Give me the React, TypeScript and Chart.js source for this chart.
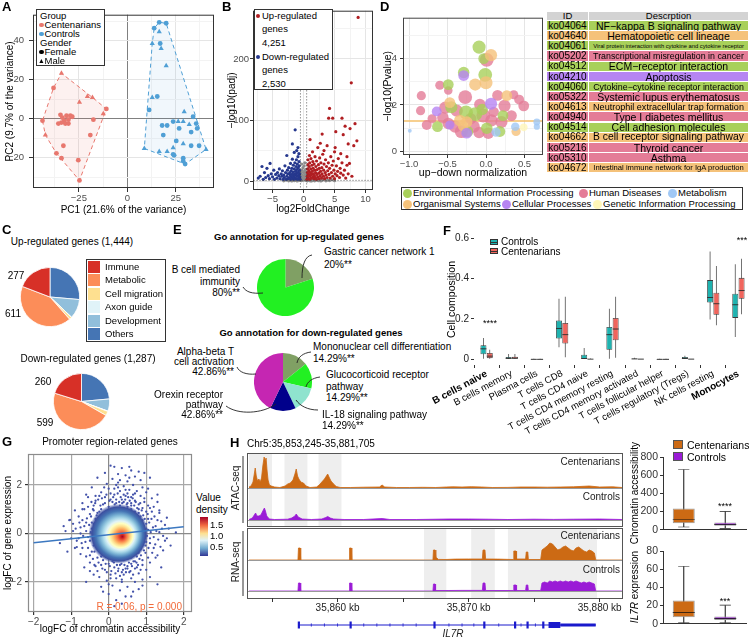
import React, { useEffect, useRef } from 'react';
import { Chart, registerables } from 'chart.js';

Chart.register(...registerables);

const FONT = '"Liberation Sans", Arial, Helvetica, sans-serif';
Chart.defaults.font.family = FONT;
Chart.defaults.font.size = 10;
Chart.defaults.color = '#4D4D4D';

// ================= DATA =================
// A: PCA
const A_CENT_FEMALE = [[-38.1,15.8],[-10.8,5.0],[-43.8,-1.0],[-34.5,2.0],[-33.5,0.5],[-32.5,-1.0],[-31.4,1.5],[-30.4,-0.5],[-29.4,1.5],[-28.4,1.0],[-34.0,-2.0],[-32.0,-2.5],[-35.6,-2.5],[-30.4,-2.5],[-17.5,-0.5],[-19.1,-8.4],[-33.0,-13.9],[-36.6,-17.8],[-34.0,-20.3],[-25.3,-21.3],[-24.7,-31.7]];
const A_CENT_MALE = [[-34.0,23.3],[-24.7,8.4],[-20.6,11.4],[-18.0,10.9],[-12.4,2.5],[-42.3,-8.4]];
const A_CTRL_FEMALE = [[16.5,49.5],[20.1,49.0],[13.9,46.5],[17.0,38.6],[15.5,11.4],[11.3,4.5],[34.0,1.0],[35.6,-2.5],[18.0,-3.5],[20.6,-3.5],[23.7,-1.5],[26.8,-5.0],[36.1,-5.0],[18.6,-8.4],[33.0,-6.9],[25.3,-11.4],[33.0,-13.9],[37.1,-13.9],[23.7,-18.3],[24.2,-18.8],[28.9,-20.3],[28.9,-21.8],[29.9,-23.3]];
const A_CTRL_MALE = [[16.5,44.6],[12.9,38.6],[17.5,36.1],[20.1,27.2],[12.9,10.9],[29.4,3.5],[26.3,-1.5],[28.9,-1.5],[32.0,-3.0],[8.8,-15.3],[16.5,-16.8],[20.6,-16.8],[23.7,-14.9],[28.9,-12.9],[40.7,-15.8]];

// B: volcano
const B_NS = [[-2.4,0.5],[-2.1,1.2],[-1.9,0.3],[-1.7,2.1],[-1.5,0.8],[-1.3,3.2],[-1.2,1.5],[-1.0,0.4],[-0.9,4.5],[-0.8,2.2],[-0.7,6.1],[-0.6,1.1],[-0.45,8.3],[-0.45,3.5],[-0.4,12.0],[-0.35,0.7],[-0.3,5.5],[-0.25,18.0],[-0.2,2.8],[-0.15,9.5],[-0.1,22.0],[-0.05,1.5],[0.0,14.0],[0.05,4.2],[0.1,25.0],[0.15,7.8],[0.2,16.5],[0.25,2.0],[0.3,11.0],[0.35,19.5],[0.4,6.5],[0.45,1.0],[0.5,3.8],[0.6,0.6],[0.7,2.5],[0.8,5.2],[0.9,1.3],[1.0,3.0],[1.1,0.4],[1.2,1.9],[1.35,4.0],[1.5,0.9],[1.65,2.7],[1.8,0.5],[2.0,1.6],[2.2,3.3],[2.4,0.7],[2.6,2.1],[2.8,0.4],[3.0,1.4],[3.3,2.8],[3.6,0.6],[3.9,1.8],[4.2,0.9],[4.6,2.3],[5.0,0.8],[-2.8,1.8],[-3.2,0.6],[-1.1,0.9],[0.65,1.0],[1.3,0.5],[-0.4,15.5],[0.4,13.0],[-0.3,28.0],[0.2,30.0]];
const B_DOWN = [[-0.55,3],[-0.6,7],[-0.62,12],[-0.65,18],[-0.7,25],[-0.72,32],[-0.75,5],[-0.8,10],[-0.82,15],[-0.85,22],[-0.9,40],[-0.9,55],[-0.95,3],[-1.0,8],[-1.0,28],[-1.05,13],[-1.1,19],[-1.15,35],[-1.2,4],[-1.2,24],[-1.25,10],[-1.3,16],[-1.35,84],[-1.4,6],[-1.4,30],[-1.45,12],[-1.5,47],[-1.5,20],[-1.55,3],[-1.6,9],[-1.65,26],[-1.7,15],[-1.75,5],[-1.8,61],[-1.8,36],[-1.85,11],[-1.9,21],[-1.95,7],[-2.0,17],[-2.05,3],[-2.1,29],[-2.15,10],[-2.2,14],[-2.3,6],[-2.4,22],[-2.5,4],[-2.55,12],[-2.6,18],[-2.7,42],[-2.7,8],[-2.8,3],[-2.9,14],[-3.0,25],[-3.1,6],[-3.2,10],[-3.3,3],[-3.4,17],[-3.5,8],[-3.6,12],[-3.8,4],[-3.9,20],[-4.0,9],[-4.2,14],[-4.3,5],[-4.5,11],[-4.7,3],[-4.8,18],[-5.0,7],[-5.2,12],[-5.4,29],[-5.5,4],[-5.7,9],[-5.9,21],[-6.1,6],[-6.3,14],[-6.5,3],[-6.7,24],[-7.0,8],[-7.3,5],[-1.1,50],[-0.75,45]];
const B_UP = [[0.55,3],[0.6,8],[0.62,14],[0.65,20],[0.7,27],[0.72,35],[0.75,5],[0.8,11],[0.85,17],[0.9,24],[0.95,42],[1.0,3],[1.0,30],[1.05,68],[1.05,9],[1.1,14],[1.15,20],[1.2,37],[1.25,5],[1.3,11],[1.35,26],[1.4,16],[1.45,48],[1.5,7],[1.5,32],[1.55,21],[1.6,12],[1.65,4],[1.7,28],[1.75,9],[1.8,18],[1.85,40],[1.9,6],[1.95,14],[2.0,24],[2.05,3],[2.1,33],[2.15,11],[2.2,19],[2.3,55],[2.3,7],[2.4,27],[2.45,13],[2.5,4],[2.55,21],[2.6,38],[2.7,9],[2.75,16],[2.8,30],[2.9,5],[2.95,22],[3.0,77],[3.0,12],[3.1,44],[3.2,8],[3.25,18],[3.3,28],[3.4,4],[3.5,14],[3.55,35],[3.6,10],[3.7,24],[3.8,58],[3.8,6],[3.9,17],[4.0,30],[4.05,103],[4.1,11],[4.2,119],[4.2,21],[4.3,5],[4.4,40],[4.5,14],[4.6,26],[4.7,103],[4.7,8],[4.8,33],[4.9,18],[5.0,4],[5.1,55],[5.1,12],[5.2,81],[5.3,25],[5.4,9],[5.5,16],[5.6,37],[5.8,6],[5.9,21],[6.0,13],[6.2,103],[6.2,30],[6.4,76],[6.4,10],[6.6,18],[6.7,90],[6.8,5],[7.0,26],[7.2,61],[7.2,12],[7.4,29],[7.5,86],[7.7,161],[7.8,8],[8.1,58],[8.3,94],[8.6,66],[8.8,268],[6.0,45],[5.0,48],[3.3,50],[2.7,62],[7.0,40]];
const B_FC_CUT = 0.5;
const B_P_CUT = 1.3;
const B_UP_COUNT = '4,251';
const B_DOWN_COUNT = '2,530';

// C: pies
const C_GROUPS = ['Others', 'Development', 'Axon guide', 'Cell migration', 'Metabolic', 'Immune'];
const C_UP_VALUES = [381, 153, 2, 20, 611, 277];
const C_DOWN_VALUES = [303, 90, 3, 32, 599, 260];
const C_LEGEND = ['Immune', 'Metabolic', 'Cell migration', 'Axon guide', 'Development', 'Others'];

// D: KEGG bubbles [x, y, r]
const D_CLASSES = ['Environmental Information Processing', 'Human Diseases', 'Metabolism', 'Organismal Systems', 'Cellular Processes', 'Genetic Information Processing'];
const D_ENV = [[-0.09,4.5,5.7],[-0.03,4.0,4.7],[-0.29,3.4,5],[-0.01,3.3,6],[-0.49,2.88,4.7],[-0.26,1.68,6],[-0.14,1.6,6],[0.22,1.54,4.7],[-0.63,1.06,4.7],[0.01,0.99,5],[-0.24,0.85,5],[0.18,0.85,4.7],[-0.45,1.9,5.3],[-0.05,1.8,5]];
const D_HUM = [[0.009,3.95,6],[-0.6,2.85,4],[-0.49,2.62,3.7],[-0.84,2.4,4],[-0.27,2.34,6],[0.15,2.41,4.7],[0.36,2.44,4],[0.43,2.23,4.3],[0.49,1.96,4.7],[0.24,1.96,5.3],[-0.08,2.02,5],[-0.85,1.75,4],[-0.53,1.88,5.3],[-0.38,1.75,5.3],[-0.035,1.54,6],[0.33,1.54,4.7],[0.07,1.33,5.3],[0.2,1.26,5.3],[-0.77,1.13,4.3],[-0.49,1.2,5],[-0.4,1.06,5.3],[-0.16,1.06,5.3],[-0.32,0.85,5.7],[-0.09,0.81,5],[0.03,0.78,5],[-0.56,1.45,5],[-0.2,1.4,5],[0.1,1.7,4.5],[-0.7,1.4,4]];
const D_MET = [[0.13,0.82,4],[0.38,1.06,3.7],[0.66,1.26,3],[0.66,1.06,2.7],[-0.99,0.88,1.7]];
const D_ORG = [[0.065,4.15,5.3],[-0.14,2.88,5.3],[0,2.96,5.7],[0.27,2.4,4.7],[-0.47,2.1,4.7],[-0.34,1.33,5],[-0.25,1.26,5],[0.39,0.85,4],[-0.3,1.1,4.5]];
const D_CELL = [[-0.29,3.27,4.7],[0.065,2.05,5.3],[-0.64,1.72,4.3],[-0.47,1.13,4],[-0.25,0.78,4.7]];
const D_GEN = [[0.49,1.03,3.3]];
const D_P_CUT = 1.3;
const KEGG_IDS = ['ko04064','ko04640','ko04061','ko05202','ko04512','ko04210','ko04060','ko05322','ko04613','ko04940','ko04514','ko04662','ko05216','ko05310','ko04672'];
const KEGG_DESC = ['NF\u2212kappa B signaling pathway','Hematopoietic cell lineage','Viral protein interaction with cytokine and cytokine receptor','Transcriptional misregulation in cancer','ECM\u2212receptor interaction','Apoptosis','Cytokine\u2212cytokine receptor interaction','Systemic lupus erythematosus','Neutrophil extracellular trap formation','Type I diabetes mellitus','Cell adhesion molecules','B cell receptor signaling pathway','Thyroid cancer','Asthma','Intestinal immune network for IgA production'];
const KEGG_CLASS = [0,3,0,1,0,4,0,1,3,1,0,3,1,1,3];

// E: GO pies
const E_UP_LABELS = ['Gastric cancer network 1', 'B cell mediated immunity'];
const E_UP_VALUES = [20, 80];
const E_DOWN_LABELS = ['Mononuclear cell differentiation', 'Glucocorticoid receptor pathway', 'IL-18 signaling pathway', 'Orexin receptor pathway', 'Alpha-beta T cell activation'];
const E_DOWN_VALUES = [14.29, 14.29, 14.29, 14.29, 42.86];

// F: cell composition boxplots [min, q1, median, q3, max]
const F_CATEGORIES = ['B cells naive','B cells memory','Plasma cells','T cells CD8','T cells CD4 naive','T cells CD4 memory resting','T cells CD4 memory activated','T cells follicular helper','T cells regulatory (Tregs)','NK cells resting','Monocytes'];
const F_CONTROLS = [[0,0.025,0.052,0.07,0.106],[0,0,0.005,0.012,0.027],[0,0,0,0.001,0.002],[0.06,0.103,0.153,0.192,0.30],[0,0,0.004,0.023,0.056],[0,0.047,0.122,0.16,0.25],[0,0,0.002,0.005,0.008],[0,0,0,0.001,0.001],[0,0,0.004,0.012,0.018],[0.197,0.281,0.306,0.392,0.533],[0.11,0.205,0.27,0.325,0.47]];
const F_CENTENARIANS = [[0,0.006,0.016,0.031,0.047],[0,0,0.006,0.013,0.027],[0,0,0,0.001,0.002],[0.01,0.078,0.122,0.18,0.31],[0,0,0.001,0.003,0.005],[0.008,0.094,0.15,0.205,0.31],[0,0,0.001,0.002,0.003],[0,0,0,0.001,0.001],[0,0,0.001,0.002,0.003],[0.169,0.22,0.275,0.33,0.462],[0.223,0.30,0.34,0.403,0.497]];

// G: promoter scatter
const G_DOTS_OUTER = [[0.05,2.8],[0.15,2.75],[0.35,2.7],[0.55,2.75],[0.6,2.6],[0.8,2.55],[-0.1,2.5],[0.25,2.45],[0.45,2.4],[0.7,2.35],[0.95,2.5],[-0.3,2.3],[0.1,2.25],[0.3,2.2],[0.5,2.15],[0.85,2.2],[1.1,2.3],[-0.05,2.05],[0.2,2.0],[0.4,1.95],[0.65,2.0],[0.9,1.9],[-0.45,1.9],[0.0,1.85],[0.55,1.8],[0.75,1.75],[1.0,1.7],[-0.2,1.7],[0.3,1.75],[0.15,1.6],[0.45,1.55],[0.85,1.55],[-0.55,1.5],[-0.1,1.5],[0.6,1.5],[1.15,1.45],[0.05,1.4],[0.35,1.4],[0.7,1.35],[-0.35,1.35],[1.3,1.3],[0.95,1.3],[-0.7,1.25],[0.2,1.25],[0.5,1.25],[-0.15,1.2],[0.8,1.2],[1.05,1.15],[0.25,1.9],[0.5,1.65],[-0.25,1.55],[0.1,1.3],[0.65,1.6],[0.4,1.3],[-0.4,1.15],[0.9,1.05],[0.0,1.1],[0.6,1.15],
[-1.05,0.55],[-0.95,0.1],[-0.85,-0.3],[-0.8,0.7],[-0.75,0.25],[-0.7,-0.6],[-0.65,1.0],[-0.6,0.45],[-0.55,-0.15],[-0.5,0.8],[-0.5,-0.9],[-0.45,0.2],[-0.4,-0.5],[-0.4,0.95],[-0.35,0.6],[-0.3,-1.0],[-0.3,0.85],[-0.25,-0.7],[-0.2,1.0],[-0.15,-1.1],[1.05,0.6],[1.1,-0.2],[1.15,0.9],[1.2,-0.6],[1.25,0.3],[1.3,-0.9],[1.35,0.05],[1.4,0.5],[1.5,-0.3],[1.6,0.2],[1.05,-1.0],[1.1,1.05],[0.98,-0.8],[1.0,0.9],[-1.3,-0.4],[-1.2,0.3],[1.79,0.04],[-0.85,-0.56],[-1.03,0.56],[1.55,0.65],[-1.1,-0.75],[1.45,-0.7],[-0.9,0.95],[1.65,-0.5],
[0.0,-1.25],[0.3,-1.3],[0.6,-1.25],[0.9,-1.3],[-0.35,-1.35],[0.15,-1.4],[0.45,-1.45],[0.75,-1.4],[-0.1,-1.5],[0.25,-1.55],[0.55,-1.6],[1.0,-1.5],[-0.5,-1.55],[0.05,-1.7],[0.4,-1.7],[0.8,-1.65],[-0.25,-1.8],[0.2,-1.85],[0.6,-1.85],[1.1,-1.8],[-0.05,-1.95],[0.35,-2.0],[0.7,-2.0],[0.1,-2.15],[0.5,-2.2],[0.9,-2.15],[-0.2,-2.2],[0.3,-2.35],[0.65,-2.4],[0.0,-2.5],[0.45,-2.6],[0.2,-2.75],[0.15,-3.0],[0.35,-2.9],[1.3,-2.1],[-0.6,-2.0],[0.1,-1.15],[0.7,-1.15],[-0.2,-1.3],[0.5,-1.35],[0.35,-1.6],[0.9,-1.9],[-0.4,-1.7],[0.6,-2.6],
[-0.35,0.3],[-0.3,-0.3],[-0.25,0.55],[-0.2,-0.55],[-0.1,0.8],[-0.05,-0.85],[0.0,0.95],[0.1,-1.0],[0.2,1.05],[0.4,1.05],[0.6,1.0],[0.8,0.85],[0.9,0.55],[0.95,0.2],[0.95,-0.15],[0.9,-0.5],[0.8,-0.8],[0.6,-1.0],[0.4,-1.1],[-0.3,0.05],[-0.2,0.2],[0.85,-0.3],[0.05,-0.7],[0.7,0.9],[-0.15,0.65],[0.25,-1.05],[0.5,-1.05],[0.75,-0.95],[0.3,1.15],[0.5,1.1],[-0.4,-0.2],[-0.45,0.45],[1.0,0.4],[1.0,-0.35],[-0.25,0.9],[-0.15,-0.8],[0.85,0.7],[0.85,-0.65],[-0.38,-0.75],[1.05,0.15]];
const G_DOTS_INNER = [[-0.6,0.1],[-0.62,-0.35],[-0.58,0.62],[-0.55,-0.6],[-0.52,0.35],[-0.5,-0.3],[-0.48,0.05],[-0.47,0.7],[-0.45,-0.75],[-0.42,1.0],[-0.42,-1.05],[-0.4,0.4],[-0.38,-1.3],[-0.36,1.25],[-0.33,-0.1],[-0.32,0.75],[-0.3,-0.55],[-0.28,1.4],[-0.27,-1.2],[-0.25,0.25],[-0.24,-0.4],[-0.22,1.15],[-0.2,-0.95],[-0.18,1.45],[-0.17,-1.45],[-0.15,0.4],[-0.12,-0.25],[-0.1,1.25],[-0.08,-1.25],[-0.06,1.6],[-0.05,-1.6],[-0.03,0.55],[0.0,-0.45],[0.02,1.35],[0.03,-1.35],[0.05,1.65],[0.07,-1.55],[0.08,0.7],[0.1,-0.8],[0.12,1.5],[0.14,-1.2],[0.16,1.2],[0.18,-1.65],[0.2,1.4],[0.22,-1.3],[0.24,1.65],[0.26,-1.45],[0.28,1.3],[0.3,-1.75],[0.32,1.5],[0.34,-1.25],[0.36,1.25],[0.38,-1.5],[0.4,1.6],[0.42,-1.3],[0.44,1.4],[0.46,-1.6],[0.48,1.2],[0.5,-1.45],[0.52,1.5],[0.54,-1.2],[0.56,1.35],[0.58,-1.55],[0.6,1.25],[0.62,-1.35],[0.64,1.45],[0.66,-1.15],[0.68,1.15],[0.7,-1.45],[0.72,1.3],[0.74,-1.2],[0.76,1.05],[0.78,-1.3],[0.8,1.0],[0.82,-1.05],[0.84,1.25],[0.86,-0.9],[0.88,0.95],[0.9,-1.1],[0.92,0.75],[0.94,-0.7],[0.96,0.6],[0.98,-0.5],[1.0,0.2],[1.02,-0.1],[1.04,0.8],[1.06,-0.6],[1.08,0.45],[1.1,-0.4],[1.12,0.05],[1.14,0.6],[1.16,-0.8],[1.18,0.25],[1.2,-0.15],[1.22,0.7],[1.24,-0.45],[1.27,0.1],[1.3,0.55],[1.32,-0.25],[1.35,0.85],[1.38,-0.55],[1.42,0.2],[1.45,-0.1],[-0.65,0.3],[-0.68,-0.1],[-0.7,0.55],[-0.72,-0.4],[-0.75,0.0],[-0.78,0.45],[-0.8,-0.2],[-0.88,0.2],[-0.9,-0.6],[-0.95,0.4],[-0.46,1.3],[-0.5,-1.2],[-0.55,1.1],[-0.6,-0.95],[-0.35,1.55],[-0.3,-1.55],[0.15,1.85],[0.45,1.8],[0.7,1.65],[0.95,1.45],[-0.12,1.9],[0.35,-1.9],[0.65,-1.7],[0.05,-1.85],[0.85,-1.5],[1.1,-1.2],[1.2,1.1],[1.25,-1.0],[-0.7,1.0],[-0.75,-0.85],[1.35,0.95],[1.5,0.35],[1.55,-0.2],[-1.0,-0.2],[-1.15,0.1],[0.25,2.1],[0.55,2.3],[0.0,-2.1],[0.8,-2.3],[-0.15,-2.4],[1.05,1.85],[-0.6,1.6],[1.3,1.6],[-0.65,-1.4],[1.4,-1.4]];
const G_CORE = [[0.26, -0.01, 30]];
const G_FIT = [[-2, -0.38], [2, 0.28]];
const G_STAT = 'R = 0.06, p = 0.000';

// H: tracks
const GENOME_START = 35853.245;
const GENOME_END = 35881.705;
const GENOME_TICKS = [35855, 35860, 35865, 35870, 35875, 35880];
const GENOME_LABELED = [35860, 35870, 35880];
const ATAC_REGIONS = [[35853.245, 35855.0], [35855.95, 35857.7], [35858.55, 35860.3]];
const RNA_REGIONS = [[35866.6, 35868.3], [35870.2, 35872.0], [35873.0, 35879.8]];
const ATAC_CENT = [[35853.25,1],[35853.4,2],[35853.55,6],[35853.65,14],[35853.72,20],[35853.8,12],[35853.9,7],[35854.0,9],[35854.1,6],[35854.2,10],[35854.3,22],[35854.4,31],[35854.48,27],[35854.55,30],[35854.62,18],[35854.7,8],[35854.8,3],[35854.95,2],[35855.2,1],[35855.6,0.5],[35856.0,2],[35856.2,4],[35856.4,5],[35856.6,8],[35856.75,14],[35856.85,19],[35856.95,12],[35857.05,9],[35857.2,6],[35857.4,5],[35857.6,2],[35857.9,0.5],[35858.4,1],[35858.6,3],[35858.8,6],[35859.0,9],[35859.15,12],[35859.25,14],[35859.35,11],[35859.5,7],[35859.7,4],[35859.9,1.5],[35860.2,0.5],[35861,0.5],[35862,0.8],[35863.2,1],[35863.4,3],[35863.6,1],[35864.5,0.5],[35865.5,0.5],[35866.5,0.7],[35867.5,0.5],[35868.3,1],[35868.8,1.2],[35869.5,1],[35870.2,1.3],[35871,1],[35871.8,0.5],[35873,0.6],[35874,1],[35875,1],[35876,0.8],[35877,1],[35878,1.2],[35879.2,2],[35880,1],[35881,1.2],[35881.7,0.5]];
const ATAC_CTRL = [[35853.25,0.5],[35853.5,2],[35853.65,5],[35853.75,7],[35853.85,4],[35854.0,4],[35854.15,5],[35854.3,9],[35854.42,12],[35854.5,9],[35854.6,4],[35854.8,1],[35855.2,0.5],[35856.2,0.8],[35856.5,2],[35856.75,4],[35856.85,6],[35857.0,3],[35857.3,1],[35858.0,0.5],[35858.8,1],[35859.1,2.5],[35859.25,3.5],[35859.45,2],[35859.7,1],[35860.5,0.5],[35862,0.5],[35863.4,1.5],[35864,0.5],[35866,0.5],[35868.5,1],[35870,1],[35871.5,0.8],[35873,0.5],[35875,0.8],[35876.5,0.6],[35878,0.8],[35880,1],[35881.7,0.5]];
const RNA_CENT = [[35853.25,0],[35856.98,0],[35857.02,12],[35857.15,12],[35857.19,0],[35860.88,0],[35860.92,12],[35861.05,12],[35861.09,0],[35867.28,0],[35867.32,10],[35867.44,10],[35867.5,3],[35867.7,0.6],[35868.2,0.5],[35869,0.9],[35870,1],[35871.05,1],[35871.1,10],[35871.25,10],[35871.3,1],[35872.2,0.9],[35873.4,0.5],[35873.45,9],[35873.62,9],[35873.66,1],[35874.35,1],[35874.4,8],[35874.52,8],[35874.56,0.5],[35875.5,0.5],[35875.6,10],[35875.8,12],[35876.0,14],[35876.2,17],[35876.4,16],[35876.6,13],[35876.8,10],[35877.0,11],[35877.2,13],[35877.4,14],[35877.6,12],[35877.8,10],[35878.0,9],[35878.2,12],[35878.4,13],[35878.6,11],[35878.8,9],[35879.0,8],[35879.2,10],[35879.4,9],[35879.6,7],[35879.7,0],[35881.7,0]];
const RNA_CTRL = [[35853.25,0],[35856.98,0],[35857.02,8],[35857.15,8],[35857.19,0],[35860.88,0],[35860.92,8],[35861.05,8],[35861.09,0],[35867.28,0],[35867.32,7],[35867.44,7],[35867.48,0.5],[35868.5,0.5],[35869.5,0.6],[35871.05,0.6],[35871.1,8],[35871.25,8],[35871.3,0.5],[35873.4,0.5],[35873.45,6],[35873.62,6],[35873.66,0.5],[35874.35,0.5],[35874.4,6],[35874.52,6],[35874.56,0.5],[35875.5,0.5],[35875.6,8],[35875.8,9],[35876.0,8],[35876.2,10],[35876.4,9],[35876.6,10],[35876.8,9],[35877.0,10],[35877.2,9],[35877.4,10],[35877.6,9],[35877.8,10],[35878.0,9],[35878.2,10],[35878.4,9],[35878.6,8],[35878.8,9],[35879.0,8],[35879.2,9],[35879.4,8],[35879.6,7],[35879.7,0],[35881.7,0]];
const IL7R_SPAN = [35857.0, 35879.7];
const IL7R_EXONS = [35857.05, 35861.0, 35867.4, 35871.2, 35873.55, 35874.5, 35875.7];
const IL7R_UTR = [35876.1, 35877.0];
const IL7R_TAIL = [35877.0, 35879.7];
const IL7R_STRAND = [35858, 35859, 35860, 35862, 35863, 35864, 35865, 35866, 35868.5, 35869.5, 35870.4, 35872.3, 35874.0, 35875.1];
const H_GROUPS = ['Centenarians', 'Controls'];
const H_ATAC_CENT = [30, 70, 110, 235, 665];
const H_ATAC_CTRL = [15, 45, 60, 80, 200];
const H_EXPR_CENT = [1, 7, 12.5, 25.5, 63.5];
const H_EXPR_CTRL = [1, 4, 6, 8, 20.5];

// ================= STYLE =================
const A_RED = '#E8776E', A_BLUE = '#4F9FD5';
const V_RED = '#B01E22', V_BLUE = '#26388E', V_GRAY = '#8C8C8C';
const C_COLORS: any = { Immune: '#D73027', Metabolic: '#FC8D59', 'Cell migration': '#FEE090', 'Axon guide': '#E0F3F8', Development: '#91BFDB', Others: '#4575B4' };
const D_COLORS = ['#A8D05A', '#E47C97', '#A0C8F5', '#F5C27A', '#B685F2', '#FFF6B8'];
const D_SIZE_SCALE = 1.15;
const E_UP_COLORS = ['#80A064', '#22F022'];
const E_DOWN_COLORS = ['#80A064', '#22F022', '#8FE3CE', '#00008B', '#C526B2'];
const F_TEAL = '#1FB3B0', F_SALMON = '#F0655D';
const H_ORANGE = '#CC6A14', H_PURPLE = '#9A1BD6';
const DENSITY_STOPS: any[] = [[0, '#A50026'], [0.07, '#D73027'], [0.15, '#F46D43'], [0.24, '#FDAE61'], [0.32, '#FEE090'], [0.4, '#FFFFBF'], [0.48, '#E0F3F8'], [0.57, '#ABD9E9'], [0.67, '#74ADD1'], [0.78, '#4575B4'], [0.9, '#3B4FA0'], [1, 'rgba(60,80,165,0.0)']];

const BASE: any = { responsive: false, animation: false, devicePixelRatio: 1, events: [] };
const NOPLUG = { legend: { display: false }, tooltip: { enabled: false } };
const lay = (top = 0, right = 0, bottom = 0, left = 0) => ({ autoPadding: false, padding: { top, right, bottom, left } });

const framePlugin: any = {
  id: 'frame',
  afterDatasetsDraw(chart: any, _a: any, opts: any) {
    if (!opts || !opts.color) return;
    const { ctx, chartArea: a } = chart;
    ctx.save();
    ctx.strokeStyle = opts.color;
    ctx.lineWidth = opts.width || 1;
    ctx.strokeRect(a.left + 0.5, a.top + 0.5, a.right - a.left - 1, a.bottom - a.top - 1);
    ctx.restore();
  },
};
const shadePlugin: any = {
  id: 'shade',
  beforeDatasetsDraw(chart: any, _a: any, opts: any) {
    if (!opts || !opts.regions) return;
    const { ctx, chartArea: a } = chart;
    const x = chart.scales.x;
    ctx.save();
    ctx.fillStyle = opts.color;
    for (const [s, e] of opts.regions) {
      const x0 = x.getPixelForValue(s), x1 = x.getPixelForValue(e);
      ctx.fillRect(x0, a.top, x1 - x0, a.bottom - a.top);
    }
    ctx.restore();
  },
};
const polyFillPlugin: any = {
  id: 'polyFill',
  beforeDatasetsDraw(chart: any) {
    chart.data.datasets.forEach((ds: any, i: number) => {
      if (!ds.polyFill) return;
      const meta = chart.getDatasetMeta(i);
      const ctx = chart.ctx;
      ctx.save();
      ctx.beginPath();
      meta.data.forEach((p: any, k: number) => (k ? ctx.lineTo(p.x, p.y) : ctx.moveTo(p.x, p.y)));
      ctx.closePath();
      ctx.fillStyle = ds.polyFill;
      ctx.fill();
      ctx.restore();
    });
  },
};
Chart.register(framePlugin, shadePlugin, polyFillPlugin);

const minus = (s: string) => s.replace(/^-/, '\u2212');
const xy = (a: number[][]) => a.map(([x, y]) => ({ x, y }));
const xyr = (a: number[][], k = 1) => a.map(([x, y, r]) => ({ x, y, r: r * k }));

function hull(points: number[][]) {
  const p = [...points].sort((a, b) => a[0] - b[0] || a[1] - b[1]);
  const cross = (o: number[], a: number[], b: number[]) => (a[0] - o[0]) * (b[1] - o[1]) - (a[1] - o[1]) * (b[0] - o[0]);
  const lower: number[][] = [];
  for (const q of p) { while (lower.length >= 2 && cross(lower[lower.length - 2], lower[lower.length - 1], q) <= 0) lower.pop(); lower.push(q); }
  const upper: number[][] = [];
  for (const q of [...p].reverse()) { while (upper.length >= 2 && cross(upper[upper.length - 2], upper[upper.length - 1], q) <= 0) upper.pop(); upper.push(q); }
  const h = lower.slice(0, -1).concat(upper.slice(0, -1));
  h.push(h[0]);
  return xy(h);
}

function linAxis(o: any) {
  const major: number[] = o.major, minor: number[] = o.minor || [];
  const all = [...minor, ...major];
  const isMajor = (v: number) => major.some((m) => Math.abs(m - v) < 1e-9);
  return {
    type: 'linear', min: o.min, max: o.max, display: o.display !== false,
    afterBuildTicks: (s: any) => { s.ticks = all.map((v) => ({ value: v })); },
    afterFit: (s: any) => { if (o.isY) s.width = o.fit; else s.height = o.fit; },
    ticks: {
      autoSkip: false, maxRotation: 0, minRotation: 0, padding: o.pad ?? 2,
      color: o.tickColor || '#4D4D4D', font: { size: o.tickSize || 9.5 },
      callback: (v: number) => (isMajor(v) ? minus(o.fmt ? o.fmt(v) : String(v)) : ''),
    },
    grid: {
      drawOnChartArea: o.grid !== false, drawTicks: true, tickLength: o.tickLen ?? 3, lineWidth: o.gridWidth || 1,
      color: (c: any) => {
        const v = c.tick ? c.tick.value : NaN;
        if (o.zero !== undefined && Math.abs(v - o.zero) < 1e-9) return o.zeroColor;
        return isMajor(v) ? (o.gridMajor || '#E5E5E5') : (o.gridMinor || '#F3F3F3');
      },
      tickColor: (c: any) => (c.tick && isMajor(c.tick.value) ? o.tickMarkColor || '#333' : 'rgba(0,0,0,0)'),
    },
    border: { display: !!o.border, color: '#333', width: 1 },
    title: o.title
      ? { display: true, text: o.title, color: '#000', font: { size: o.titleSize || 10 }, padding: { top: o.titlePad || 0, bottom: o.titlePad || 0 } }
      : { display: false },
  };
}

// ================= CHART CONFIGS =================
function makeA() {
  const pt = (data: number[][], color: string, style: string, r: number) => ({ type: 'scatter', data: xy(data), pointStyle: style, pointRadius: r, backgroundColor: color, borderWidth: 0 });
  const hl = (data: number[][], color: string, fillc: string) => ({ type: 'line', data: hull(data), borderColor: color, borderWidth: 1, borderDash: [4, 3], pointRadius: 0, tension: 0, fill: false, polyFill: fillc });
  return {
    type: 'scatter',
    data: { datasets: [
      pt(A_CENT_FEMALE, A_RED, 'circle', 2.4), pt(A_CENT_MALE, A_RED, 'triangle', 3),
      pt(A_CTRL_FEMALE, A_BLUE, 'circle', 2.4), pt(A_CTRL_MALE, A_BLUE, 'triangle', 3),
      hl([...A_CENT_FEMALE, ...A_CENT_MALE], A_RED, 'rgba(232,119,110,0.10)'),
      hl([...A_CTRL_FEMALE, ...A_CTRL_MALE], A_BLUE, 'rgba(79,159,213,0.08)'),
    ] },
    options: {
      ...BASE, layout: lay(4, 2),
      scales: {
        x: linAxis({ min: -48.7, max: 44.8, major: [-25, 0, 25], minor: [-37.5, -12.5, 12.5, 37.5], fit: 28, title: 'PC1 (21.6% of the variance)', titlePad: 0, zero: 0, zeroColor: '#808080', pad: 1, tickLen: 4 }),
        y: linAxis({ isY: true, min: -35.6, max: 53.4, major: [-20, 0, 20, 40], minor: [-30, -10, 10, 30, 50], fit: 33, title: 'PC2 (9.7% of the variance)', titlePad: 4, zero: 0, zeroColor: '#808080', pad: 5, tickLen: 4 }),
      },
      plugins: { ...NOPLUG, frame: { color: '#333' } },
    },
  };
}

function makeB() {
  const pt = (data: number[][], color: string) => ({ data: xy(data), pointRadius: 1.6, backgroundColor: color, borderWidth: 0 });
  const ln = (data: number[][]) => ({ type: 'line', data: xy(data), borderColor: '#333', borderWidth: 0.8, borderDash: [1, 2], pointRadius: 0, fill: false });
  return {
    type: 'scatter',
    data: { datasets: [
      ln([[-B_FC_CUT, -20], [-B_FC_CUT, 300]]), ln([[B_FC_CUT, -20], [B_FC_CUT, 300]]), ln([[-10, B_P_CUT], [12, B_P_CUT]]),
      pt(B_UP, V_RED), pt(B_DOWN, V_BLUE), pt(B_NS, V_GRAY),
    ] },
    options: {
      ...BASE, layout: lay(4, 2),
      scales: {
        x: linAxis({ min: -8.15, max: 11.2, major: [-5, 0, 5, 10], minor: [-7.5, -2.5, 2.5, 7.5], fit: 27, title: 'log2FoldChange', titlePad: 2, pad: 1 }),
        y: linAxis({ isY: true, min: -14.5, max: 279, major: [0, 100, 200], minor: [50, 150, 250], fit: 27, title: '\u2212log10(padj)', titlePad: 0, pad: 1 }),
      },
      plugins: { ...NOPLUG, frame: { color: '#333' } },
    },
  };
}

function makePie(values: number[], colors: string[], bw: number) {
  return () => ({
    type: 'pie',
    data: { labels: values.map((_, i) => String(i)), datasets: [{ data: values, backgroundColor: colors, borderColor: '#fff', borderWidth: bw }] },
    options: { ...BASE, layout: lay(), plugins: NOPLUG },
  });
}

function makeD() {
  const sets = [D_ENV, D_HUM, D_MET, D_ORG, D_CELL, D_GEN];
  const alpha = (hex: string, a: number) => {
    const n = parseInt(hex.slice(1), 16);
    return `rgba(${(n >> 16) & 255},${(n >> 8) & 255},${n & 255},${a})`;
  };
  const order = [5, 2, 4, 3, 0, 1];
  return {
    type: 'bubble',
    data: { datasets: [
      ...order.map((k) => ({ data: xyr(sets[k], D_SIZE_SCALE), backgroundColor: alpha(D_COLORS[k], 0.8), borderWidth: 0 })),
      { type: 'line', data: xy([[-1.2, D_P_CUT], [0.8, D_P_CUT]]), borderColor: '#F5C06B', borderWidth: 1.5, pointRadius: 0, fill: false },
    ] },
    options: {
      ...BASE, layout: lay(2, 2),
      scales: {
        x: linAxis({ min: -1.078, max: 0.74, major: [-1, -0.5, 0, 0.5], minor: [-0.75, -0.25, 0.25], fmt: (v: number) => v.toFixed(1), fit: 26, title: 'up\u2212down normalization', titlePad: 1.5, pad: 1, titleSize: 10.5 }),
        y: linAxis({ isY: true, min: -0.165, max: 5.77, major: [0, 2, 4], minor: [1, 3, 5], fit: 25, title: '\u2212log10(Pvalue)', titlePad: 3.5, pad: 3, titleSize: 10.5 }),
      },
      plugins: { ...NOPLUG, frame: { color: '#444' } },
    },
  };
}

function boxSets(stats: number[][], color: string, stack: string, d: number) {
  const common = { stack, categoryPercentage: 0.5, borderSkipped: false };
  return [
    { ...common, data: stats.map((s) => [s[2] - d, s[2] + d]), backgroundColor: '#2b2b2b', borderWidth: 0, barPercentage: 0.95 },
    { ...common, data: stats.map((s) => [s[1], Math.max(s[3], s[1] + 0.0008)]), backgroundColor: color, borderColor: '#3a3a3a', borderWidth: 0.8, barPercentage: 0.95 },
    { ...common, data: stats.map((s) => [s[0], s[4]]), backgroundColor: '#555', borderWidth: 0, barPercentage: 0.13 },
  ];
}

function makeF() {
  return {
    type: 'bar',
    data: { labels: F_CATEGORIES, datasets: [...boxSets(F_CONTROLS, F_TEAL, 'C', 0.0022), ...boxSets(F_CENTENARIANS, F_SALMON, 'K', 0.0022)] },
    options: {
      ...BASE, layout: lay(2, 0),
      scales: {
        x: {
          type: 'category',
          afterFit: (s: any) => { s.height = 70; },
          grid: { drawOnChartArea: false, drawTicks: true, tickLength: 3, color: '#333' },
          border: { display: false },
          ticks: {
            autoSkip: false, minRotation: 28, maxRotation: 28, padding: 0, color: '#000',
            font: (c: any) => ({ size: c.index === 0 || c.index === F_CATEGORIES.length - 1 ? 10 : 9.5, weight: c.index === 0 || c.index === F_CATEGORIES.length - 1 ? 'bold' : 'normal', family: FONT }),
          },
        },
        y: { ...linAxis({ isY: true, min: -0.028, max: 0.62, major: [0, 0.2, 0.4, 0.6], fit: 69, title: 'Cell composition', titlePad: 41, grid: false, pad: 2, tickColor: '#222', tickSize: 10, titleSize: 10.5 }), stacked: false },
      },
      plugins: { ...NOPLUG },
    },
  };
}

function makeG() {
  return {
    type: 'scatter',
    data: { datasets: [
      { type: 'line', data: xy(G_FIT), borderColor: '#3C78C0', borderWidth: 1.6, pointRadius: 0, fill: false },
      {
        type: 'bubble', data: xyr(G_CORE), borderWidth: 0,
        backgroundColor: (c: any) => {
          try {
            const sx = c.chart.scales.x, sy = c.chart.scales.y;
            if (!sx || !sy || !c.raw) return '#4575B4';
            const px = sx.getPixelForValue(c.raw.x), py = sy.getPixelForValue(c.raw.y), r = c.raw.r;
            if (![px, py, r].every((v) => Number.isFinite(v))) return '#4575B4';
            const g = c.chart.ctx.createRadialGradient(px + 4, py + 3, 0, px, py, r);
            DENSITY_STOPS.forEach(([o, col]: any) => g.addColorStop(o, col));
            return g;
          } catch (e) {
            return '#4575B4';
          }
        },
      },
      { data: xy([...G_DOTS_INNER, ...G_DOTS_OUTER]), pointRadius: 1.15, backgroundColor: '#4352AA', borderWidth: 0 },
    ] },
    options: {
      ...BASE, layout: lay(4, 2),
      scales: {
        x: linAxis({ min: -2.15, max: 2.22, major: [-2, -1, 0, 1, 2], fit: 27, title: 'logFC of chromatin accessibility', titlePad: 4, gridMajor: '#A8A8A8', zero: 0, zeroColor: '#8A8A8A', gridWidth: 1.2, pad: 1, tickSize: 10 }),
        y: linAxis({ isY: true, min: -3.24, max: 3.28, major: [-2, 0, 2], fit: 28, title: 'logFC of gene expression', titlePad: 2, gridMajor: '#A8A8A8', zero: 0, zeroColor: '#8A8A8A', gridWidth: 1.2, pad: 3, tickSize: 10 }),
      },
      plugins: { ...NOPLUG, frame: { color: '#8C8C8C', width: 1.2 } },
    },
  };
}

function makeTrack(points: number[][], color: string, ymin: number, ymax: number, regions: number[][]) {
  return () => ({
    type: 'line',
    data: { datasets: [{ data: xy(points), fill: 'origin', backgroundColor: color, borderColor: color, borderWidth: 0.8, pointRadius: 0, tension: 0 }] },
    options: {
      ...BASE, layout: lay(),
      scales: { x: { type: 'linear', min: GENOME_START, max: GENOME_END, display: false }, y: { type: 'linear', min: ymin, max: ymax, display: false } },
      plugins: { ...NOPLUG, shade: { regions, color: '#EEEEEE' } },
    },
  });
}

function makeGenomeAxis() {
  return {
    type: 'scatter',
    data: { datasets: [] },
    options: {
      ...BASE, layout: lay(),
      scales: {
        x: {
          type: 'linear', min: GENOME_START, max: GENOME_END,
          afterBuildTicks: (s: any) => { s.ticks = GENOME_TICKS.map((v) => ({ value: v })); },
          afterFit: (s: any) => { s.height = 22; },
          grid: { drawOnChartArea: false, tickLength: 4, tickColor: '#333', color: '#333' },
          border: { display: false },
          ticks: { autoSkip: false, maxRotation: 0, padding: 0, color: '#222', font: { size: 10 }, callback: (v: number) => (GENOME_LABELED.includes(v) ? `${v.toLocaleString('en-US')} kb` : '') },
        },
        y: { display: false, min: 0, max: 1 },
      },
      plugins: NOPLUG,
    },
  };
}

function makeGene() {
  const col = '#1A1ACC';
  const seg = (a: number[], w: number) => ({ type: 'line', data: xy([[a[0], 0], [a[1], 0]]), borderColor: col, borderWidth: w, pointRadius: 0, fill: false, borderCapStyle: 'butt' });
  return {
    type: 'scatter',
    data: { datasets: [
      { data: IL7R_EXONS.map((x) => ({ x, y: 0 })), pointStyle: 'line', rotation: 90, pointRadius: 3.5, borderColor: col, borderWidth: 2.2 },
      { data: IL7R_STRAND.map((x) => ({ x, y: 0 })), pointStyle: 'line', rotation: 90, pointRadius: 1.6, borderColor: col, borderWidth: 0.8 },
      seg(IL7R_UTR, 6), seg(IL7R_TAIL, 3.2), seg(IL7R_SPAN, 1),
    ] },
    options: { ...BASE, layout: lay(), scales: { x: { type: 'linear', min: GENOME_START, max: GENOME_END, display: false }, y: { min: -1, max: 1, display: false } }, plugins: NOPLUG },
  };
}

function makeHBox(cent: number[], ctrl: number[], max: number, major: number[], d: number) {
  return () => {
    const stats = [cent, ctrl];
    const cols = [H_ORANGE, H_PURPLE];
    const common = { grouped: false, categoryPercentage: 1, borderSkipped: false };
    return {
      type: 'bar',
      data: { labels: H_GROUPS, datasets: [
        { ...common, data: stats.map((s) => [s[2] - d, s[2] + d]), backgroundColor: '#111', borderWidth: 0, barPercentage: 0.53 },
        { ...common, data: stats.map((s) => [s[4] - d * 0.8, s[4] + d * 0.8]), backgroundColor: '#222', borderWidth: 0, barPercentage: 0.27 },
        { ...common, data: stats.map((s) => [s[0] - d * 0.8, s[0] + d * 0.8]), backgroundColor: '#222', borderWidth: 0, barPercentage: 0.27 },
        { ...common, data: stats.map((s) => [s[1], s[3]]), backgroundColor: cols, borderColor: '#9A9A9A', borderWidth: 1, barPercentage: 0.53 },
        { ...common, data: stats.map((s) => [s[0], s[4]]), backgroundColor: '#222', borderWidth: 0, barPercentage: 0.026 },
      ] },
      options: {
        ...BASE, layout: lay(4, 3),
        scales: {
          x: { type: 'category', afterFit: (s: any) => { s.height = 3; }, grid: { display: false }, ticks: { display: false }, border: { display: true, color: '#333' } },
          y: linAxis({ isY: true, min: 0, max, major, fit: 35, grid: false, border: true, pad: 2, tickColor: '#333', tickSize: 10.5 }),
        },
        plugins: NOPLUG,
      },
    };
  };
}

// ================= COMPONENTS =================
function ChartBox({ x, y, w, h, make }: any) {
  const ref = useRef<HTMLCanvasElement>(null);
  useEffect(() => {
    let chart: any = null;
    try {
      chart = new Chart(ref.current as any, make());
    } catch (e) {
      console.error(e);
    }
    return () => { if (chart) chart.destroy(); };
  }, []);
  return <canvas ref={ref} width={w} height={h} style={{ position: 'absolute', left: x, top: y, width: w, height: h }} />;
}

function T({ x, y, t, s = 10, b = false, i = false, c = '#000', a = 'l', r = 0 }: any) {
  const tx = a === 'c' ? '-50%' : a === 'r' ? '-100%' : '0';
  return (
    <div style={{ position: 'absolute', left: x, top: y, transform: `translate(${tx},-50%)${r ? ` rotate(${r}deg)` : ''}`, fontSize: s, fontWeight: b ? 'bold' : 'normal', fontStyle: i ? 'italic' : 'normal', color: c, whiteSpace: 'pre', lineHeight: 1.15, fontFamily: FONT }}>
      {t}
    </div>
  );
}

function Dot({ x, y, r, c }: any) {
  return <div style={{ position: 'absolute', left: x - r, top: y - r, width: 2 * r, height: 2 * r, borderRadius: '50%', background: c }} />;
}
function Tri({ x, y, r, c }: any) {
  return (
    <svg style={{ position: 'absolute', left: x - r, top: y - r }} width={2 * r} height={2 * r}>
      <polygon points={`${r},0 ${2 * r},${2 * r} 0,${2 * r}`} fill={c} />
    </svg>
  );
}
function Box({ x, y, w, h, bg = 'transparent', border = '1px solid #333' }: any) {
  return <div style={{ position: 'absolute', left: x, top: y, width: w, height: h, background: bg, border, boxSizing: 'border-box' }} />;
}

let measureCtx: any = null;
function fitSize(text: string, width: number, maxSize: number) {
  if (!measureCtx) measureCtx = document.createElement('canvas').getContext('2d');
  measureCtx.font = `10px ${FONT}`;
  const w = measureCtx.measureText(text).width;
  return Math.min(maxSize, (10 * width) / w);
}

function KeggTable() {
  const left = 547, idW = 41, descW = 159, top0 = 21, rowH = 10.15;
  return (
    <>
      <div style={{ position: 'absolute', left, top: 12, width: idW, height: 8.3, background: '#D3D3D3' }} />
      <div style={{ position: 'absolute', left: left + idW + 1, top: 12, width: descW, height: 8.3, background: '#D3D3D3' }} />
      <T x={left + idW / 2} y={16.2} t="ID" a="c" s={9.5} />
      <T x={left + idW + 1 + descW / 2} y={16.2} t="Descrption" a="c" s={9.5} />
      {KEGG_IDS.map((id, k) => {
        const top = top0 + k * rowH;
        const col = D_COLORS[KEGG_CLASS[k]];
        const desc = KEGG_DESC[k];
        return (
          <React.Fragment key={id}>
            <div style={{ position: 'absolute', left, top, width: idW, height: rowH - 1, background: col }} />
            <div style={{ position: 'absolute', left: left + idW + 1, top, width: descW, height: rowH - 1, background: col }} />
            <T x={left + idW / 2} y={top + rowH / 2 - 0.3} t={id} a="c" s={10} />
            <T x={left + idW + 1 + descW / 2} y={top + rowH / 2 - 0.3} t={desc} a="c" s={fitSize(desc, descW - 8, 10.5)} />
          </React.Fragment>
        );
      })}
    </>
  );
}

export default function App() {
  const cleg = [266.7, 280.2, 293.7, 307.2, 320.7, 334.2];
  const dLegendPos = [[407, 193], [583, 193], [672, 193], [407, 204], [506, 204], [597, 204]];
  const leaders = [
    'M312,255 C305,256 302,265 302,278',
    'M243,287 C246,292 252,294 263,293',
    'M311,352 C303,353 298,357 297,363',
    'M320,377 C312,378 307,382 306,387',
    'M296,400 C300,406 308,410 318,410',
    'M226,406 C238,415 262,414 276,404',
    'M237,367 C239,372 246,375 256,374',
  ];
  return (
    <div style={{ position: 'absolute', left: 0, top: 0, width: 749, height: 639, background: '#fff', overflow: 'hidden', fontFamily: FONT }}>
      {/* ===== A ===== */}
      <ChartBox x={0} y={4} w={216} h={212} make={makeA} />
      <Box x={36} y={9} w={69} h={57} bg="#fff" />
      <T x={40} y={16} t="Group" s={9.5} />
      <Dot x={41.5} y={25} r={2.2} c={A_RED} /><T x={44.5} y={25} t="Centenarians" s={9.5} />
      <Dot x={41.5} y={34} r={2.2} c={A_BLUE} /><T x={44.5} y={34} t="Controls" s={9.5} />
      <T x={40} y={43} t="Gender" s={9.5} />
      <Dot x={41.5} y={52} r={2.2} c="#000" /><T x={44.5} y={52} t="Female" s={9.5} />
      <Tri x={41.5} y={61} r={2.4} c="#000" /><T x={44.5} y={61} t="Male" s={9.5} />

      {/* ===== B ===== */}
      <ChartBox x={226} y={4} w={149} h={213} make={makeB} />
      <Box x={254} y={9} w={79} h={81} bg="#fff" />
      <Dot x={258} y={16} r={2} c={V_RED} />
      <T x={262} y={16} t="Up-regulated" s={9.5} />
      <T x={262} y={29} t="genes" s={9.5} />
      <T x={262} y={43} t={B_UP_COUNT} s={9.5} />
      <Dot x={258} y={57} r={2} c={V_BLUE} />
      <T x={262} y={57} t="Down-regulated" s={9.5} />
      <T x={262} y={70} t="genes" s={9.5} />
      <T x={262} y={84} t={B_DOWN_COUNT} s={9.5} />

      {/* ===== D ===== */}
      <ChartBox x={378} y={9} w={167} h={172} make={makeD} />
      <KeggTable />
      <Box x={401} y={187} w={342} h={23} />
      {D_CLASSES.map((name, k) => (
        <React.Fragment key={name}>
          <Dot x={dLegendPos[k][0]} y={dLegendPos[k][1]} r={4.5} c={D_COLORS[k]} />
          <T x={dLegendPos[k][0] + 6} y={dLegendPos[k][1]} t={name} s={9.5} />
        </React.Fragment>
      ))}

      {/* ===== C ===== */}
      <T x={72} y={242} t="Up-regulated genes (1,444)" a="c" s={10} />
      <ChartBox x={20} y={267} w={60} h={60} make={makePie(C_UP_VALUES, C_GROUPS.map((g) => C_COLORS[g]), 0.8)} />
      <T x={16} y={276} t={String(C_UP_VALUES[5])} a="c" s={10} />
      <T x={13} y={314} t={String(C_UP_VALUES[4])} a="c" s={10} />
      <Box x={86} y={259} w={80} h={83} />
      {C_LEGEND.map((g, k) => (
        <React.Fragment key={g}>
          <div style={{ position: 'absolute', left: 88, top: cleg[k] - 6, width: 12, height: 12, background: C_COLORS[g] }} />
          <T x={105} y={cleg[k]} t={g} s={9.5} />
        </React.Fragment>
      ))}
      <T x={88} y={359} t="Down-regulated genes (1,287)" a="c" s={10} />
      <ChartBox x={53} y={373} w={57} h={57} make={makePie(C_DOWN_VALUES, C_GROUPS.map((g) => C_COLORS[g]), 0.8)} />
      <T x={43} y={382} t={String(C_DOWN_VALUES[5])} a="c" s={10} />
      <T x={45} y={423} t={String(C_DOWN_VALUES[4])} a="c" s={10} />

      {/* ===== E ===== */}
      <T x={299} y={237} t="Go annotation for up-regulated genes" a="c" s={9.5} b />
      <ChartBox x={257} y={259} w={57} h={57} make={makePie(E_UP_VALUES, E_UP_COLORS, 0)} />
      <T x={324} y={252} t={E_UP_LABELS[0]} s={10} />
      <T x={324} y={265} t={`${E_UP_VALUES[0]}%**`} s={10} />
      <T x={240} y={270} t="B cell mediated" a="r" s={10} />
      <T x={240} y={282} t="immunity" a="r" s={10} />
      <T x={240} y={293} t={`${E_UP_VALUES[1]}%**`} a="r" s={10} />
      <T x={311} y={333} t="Go annotation for down-regulated genes" a="c" s={9.5} b />
      <ChartBox x={254} y={353} w={58} h={58} make={makePie(E_DOWN_VALUES, E_DOWN_COLORS, 0)} />
      <T x={313} y={347} t={E_DOWN_LABELS[0]} s={10} />
      <T x={313} y={359} t={`${E_DOWN_VALUES[0]}%**`} s={10} />
      <T x={326} y={375} t="Glucocorticoid receptor" s={10} />
      <T x={326} y={387} t="pathway" s={10} />
      <T x={326} y={398} t={`${E_DOWN_VALUES[1]}%**`} s={10} />
      <T x={322} y={415} t={E_DOWN_LABELS[2]} s={10} />
      <T x={322} y={426} t={`${E_DOWN_VALUES[2]}%**`} s={10} />
      <T x={234} y={352} t="Alpha-beta T" a="r" s={10} />
      <T x={234} y={362} t="cell activation" a="r" s={10} />
      <T x={234} y={372} t={`${E_DOWN_VALUES[4]}%**`} a="r" s={10} />
      <T x={223} y={395} t="Orexin receptor" a="r" s={10} />
      <T x={223} y={405} t="pathway" a="r" s={10} />
      <T x={223} y={415} t={`${E_DOWN_VALUES[4]}%**`} a="r" s={10} />

      {/* ===== F ===== */}
      <ChartBox x={405} y={226} w={346} h={209} make={makeF} />
      <div style={{ position: 'absolute', left: 490, top: 239, width: 8, height: 6, background: F_TEAL, border: '1px solid #333', boxSizing: 'border-box' }} />
      <div style={{ position: 'absolute', left: 490, top: 241.5, width: 8, height: 1, background: '#333' }} />
      <T x={501} y={242} t="Controls" s={10} />
      <div style={{ position: 'absolute', left: 490, top: 248, width: 8, height: 6, background: F_SALMON, border: '1px solid #333', boxSizing: 'border-box' }} />
      <div style={{ position: 'absolute', left: 490, top: 250.5, width: 8, height: 1, background: '#333' }} />
      <T x={501} y={251.5} t="Centenarians" s={10} />
      <T x={490} y={323} t="****" a="c" s={9} />
      <T x={742} y={240} t="***" a="c" s={9} />

      {/* ===== G ===== */}
      <ChartBox x={0} y={445} w={194} h={194} make={makeG} />
      <T x={110} y={442} t="Promoter region-related genes" a="c" s={10} />
      <T x={182} y={607} t={G_STAT} a="r" s={10} c="#F26B3A" />
      <T x={196} y={498} t="Value" s={10} />
      <T x={196} y={510} t="density" s={10} />
      <div style={{ position: 'absolute', left: 200, top: 517, width: 8, height: 39, background: 'linear-gradient(to bottom, #A50026 0%, #F46D43 22%, #FEE090 42%, #E0F3F8 60%, #74ADD1 80%, #313695 100%)' }} />
      <T x={210} y={525} t="1.5" s={9.5} />
      <T x={210} y={536} t="1.0" s={9.5} />
      <T x={210} y={547} t="0.5" s={9.5} />

      {/* ===== H ===== */}
      <T x={247} y={444} t="Chr5:35,853,245-35,881,705" s={10} />
      <ChartBox x={249} y={454} w={373} h={34} make={makeTrack(ATAC_CENT, H_ORANGE, 0, 34, ATAC_REGIONS)} />
      <ChartBox x={249} y={488} w={373} h={38} make={makeTrack(ATAC_CTRL, H_PURPLE, -6, 32, ATAC_REGIONS)} />
      <ChartBox x={249} y={529} w={373} h={31} make={makeTrack(RNA_CENT, H_ORANGE, 0, 31, RNA_REGIONS)} />
      <ChartBox x={249} y={560} w={373} h={38} make={makeTrack(RNA_CTRL, H_PURPLE, -7, 31, RNA_REGIONS)} />
      <div style={{ position: 'absolute', left: 248, top: 487.5, width: 374, height: 1, background: '#999' }} />
      <div style={{ position: 'absolute', left: 248, top: 519.5, width: 374, height: 1, background: '#999' }} />
      <div style={{ position: 'absolute', left: 248, top: 559.5, width: 374, height: 1, background: '#999' }} />
      <div style={{ position: 'absolute', left: 248, top: 590.5, width: 374, height: 1, background: '#999' }} />
      <Box x={247} y={453} w={376} h={74} border="1px solid #555" />
      <Box x={247} y={528} w={376} h={71} border="1px solid #555" />
      <T x={620} y={462} t="Centenarians" a="r" s={10} c="#222" />
      <T x={620} y={497} t="Controls" a="r" s={10} c="#222" />
      <T x={620} y={536} t="Centenarians" a="r" s={10} c="#222" />
      <T x={620} y={570} t="Controls" a="r" s={10} c="#222" />
      <T x={236} y={488} t="ATAC-seq" a="c" r={-90} s={10} c="#222" />
      <T x={236} y={562} t="RNA-seq" a="c" r={-90} s={10} c="#222" />
      <ChartBox x={249} y={596} w={373} h={24} make={makeGenomeAxis} />
      <ChartBox x={249} y={619} w={373} h={12} make={makeGene} />
      <T x={453} y={634} t="IL7R" a="c" s={10} i c="#222" />

      <div style={{ position: 'absolute', left: 673, top: 440, width: 10, height: 9, background: H_ORANGE, border: '1px solid #555', boxSizing: 'border-box' }} />
      <T x={687} y={444.5} t={H_GROUPS[0]} s={10.5} />
      <div style={{ position: 'absolute', left: 673, top: 452, width: 10, height: 9, background: H_PURPLE, border: '1px solid #555', boxSizing: 'border-box' }} />
      <T x={687} y={456.5} t={H_GROUPS[1]} s={10.5} />
      <ChartBox x={628} y={449} w={121} h={89} make={makeHBox(H_ATAC_CENT, H_ATAC_CTRL, 800, [0, 200, 400, 600, 800], 4)} />
      <ChartBox x={628} y={543} w={121} h={89} make={makeHBox(H_EXPR_CENT, H_EXPR_CTRL, 80, [0, 20, 40, 60, 80], 0.4)} />
      <T x={635} y={493} t="Chromatin accessibility" a="c" r={-90} s={10} />
      <div style={{ position: 'absolute', left: 635, top: 587, transform: 'translate(-50%,-50%) rotate(-90deg)', fontSize: 10, whiteSpace: 'pre', lineHeight: 1.15, fontFamily: FONT }}>
        <i>IL7R</i> expression
      </div>
      <T x={725} y={506} t="****" a="c" s={9} />
      <T x={725} y={601} t="***" a="c" s={9} />

      <svg style={{ position: 'absolute', left: 0, top: 0 }} width={749} height={639}>
        {leaders.map((d, k) => <path key={k} d={d} stroke="#222" strokeWidth={0.9} fill="none" />)}
        <line x1={243} y1={456} x2={243} y2={523} stroke="#333" strokeWidth={1} />
        <line x1={243} y1={531} x2={243} y2={596} stroke="#333" strokeWidth={1} />
      </svg>

      {/* panel letters */}
      <T x={2} y={7} t="A" s={13} b />
      <T x={222} y={7} t="B" s={13} b />
      <T x={380} y={7} t="D" s={13} b />
      <T x={2} y={230} t="C" s={13} b />
      <T x={173} y={230} t="E" s={13} b />
      <T x={443} y={231} t="F" s={13} b />
      <T x={2} y={442} t="G" s={13} b />
      <T x={230} y={443} t="H" s={13} b />
    </div>
  );
}
